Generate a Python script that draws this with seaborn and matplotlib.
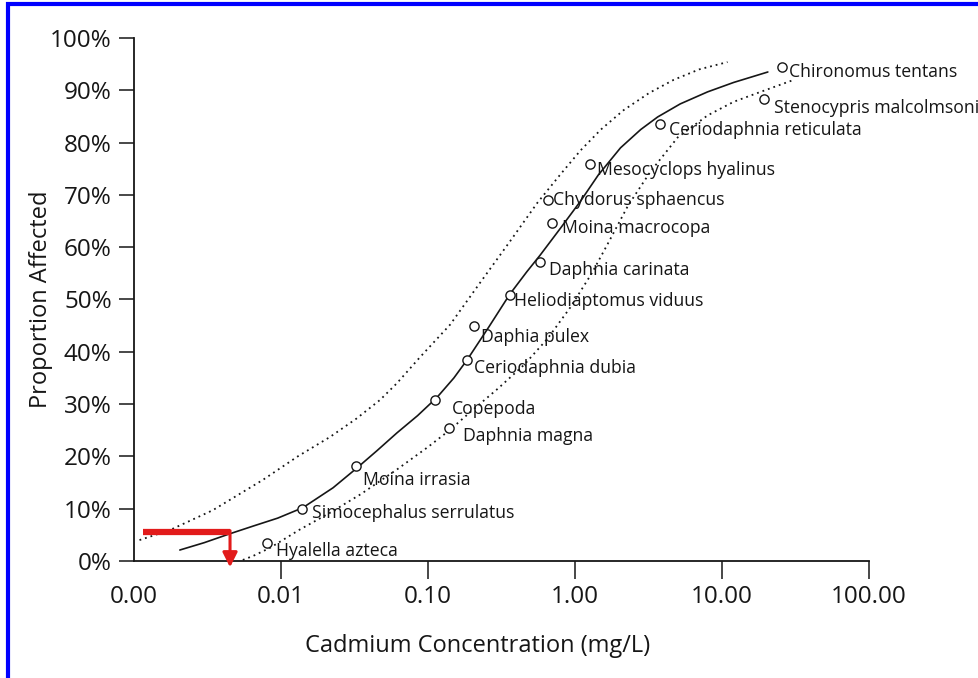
import numpy as np
import pandas as pd
import matplotlib
matplotlib.use("Agg")
import matplotlib.pyplot as plt
from matplotlib.lines import Line2D
import seaborn as sns

# species sensitivity points
species = ["Hyalella azteca", "Simocephalus serrulatus", "Moina irrasia", "Copepoda",
           "Daphnia magna", "Ceriodaphnia dubia", "Daphia pulex", "Heliodiaptomus viduus",
           "Daphnia carinata", "Chydorus sphaencus", "Moina macrocopa", "Mesocyclops hyalinus",
           "Ceriodaphnia reticulata", "Stenocypris malcolmsoni", "Chironomus tentans"]
conc = [0.0080, 0.0139, 0.0324, 0.112, 0.139, 0.185, 0.206, 0.363,
        0.581, 0.659, 0.70, 1.27, 3.76, 19.2, 25.5]
affected = [0.034, 0.099, 0.182, 0.308, 0.254, 0.384, 0.449, 0.509,
            0.572, 0.690, 0.646, 0.759, 0.836, 0.883, 0.945]

# fitted curve
fit_x = [0.00205, 0.003, 0.00448, 0.0065, 0.0095, 0.0141, 0.0226, 0.0329, 0.045,
         0.0615, 0.085, 0.1153, 0.15, 0.185, 0.26, 0.36, 0.47, 0.58, 0.795,
         1.09, 1.44, 2.04, 2.8, 3.65, 5.2, 7.98, 12.0, 20.5]
fit_y = [0.021, 0.035, 0.052, 0.067, 0.082, 0.102, 0.140, 0.178, 0.211,
         0.245, 0.278, 0.313, 0.350, 0.385, 0.448, 0.510, 0.553, 0.585, 0.636,
         0.688, 0.738, 0.790, 0.825, 0.849, 0.874, 0.897, 0.915, 0.935]

# upper / lower confidence bounds
upper_x = [0.00109, 0.00175, 0.00343, 0.00752, 0.013, 0.0215, 0.0325, 0.0472, 0.0615,
           0.0884, 0.1415, 0.226, 0.363, 0.555, 0.8, 1.09, 1.5, 2.14, 3.2, 4.69,
           7.0, 10.9]
upper_y = [0.040, 0.059, 0.097, 0.155, 0.200, 0.237, 0.272, 0.308, 0.340,
           0.390, 0.452, 0.532, 0.612, 0.685, 0.740, 0.785, 0.825, 0.862, 0.895, 0.920,
           0.940, 0.954]
lower_x = [0.0055, 0.0065, 0.0084, 0.0134, 0.0215, 0.035, 0.0615, 0.1, 0.14, 0.2,
           0.3, 0.45, 0.65, 0.93, 1.3, 1.66, 2.3, 3.27, 5.0, 7.98, 12.0, 17.5, 30.8]
lower_y = [0.002, 0.010, 0.025, 0.060, 0.092, 0.128, 0.175, 0.218, 0.250, 0.288,
           0.330, 0.375, 0.425, 0.485, 0.550, 0.605, 0.680, 0.745, 0.810, 0.852,
           0.878, 0.895, 0.920]

# HC5 marker
hc5_level = 0.055
hc5_conc = 0.0045
hc5_start = 0.00115

xticks = [0.001, 0.01, 0.1, 1, 10, 100]
xtick_labels = ["0.00", "0.01", "0.10", "1.00", "10.00", "100.00"]
yticks = [0, 0.1, 0.2, 0.3, 0.4, 0.5, 0.6, 0.7, 0.8, 0.9, 1.0]
ytick_labels = ["0%", "10%", "20%", "30%", "40%", "50%", "60%", "70%", "80%", "90%", "100%"]

# label offsets in pixels (right, down)
label_offsets = [(9, 8), (10, 4), (7, 14), (17, 9), (14, 8), (7, 8), (7, 11), (4, 6),
                 (9, 8), (5, 0), (10, 5), (7, 6), (9, 6), (10, 9), (7, 5)]

sns.set_style("ticks")
plt.rcParams["font.family"] = ["Open Sans", "DejaVu Sans"]

pts = pd.DataFrame({"species": species, "conc": conc, "affected": affected})
fit = pd.DataFrame({"conc": fit_x, "affected": fit_y})
up = pd.DataFrame({"conc": upper_x, "affected": upper_y})
lo = pd.DataFrame({"conc": lower_x, "affected": lower_y})

W, H = 979, 678
fig = plt.figure(figsize=(W / 100, H / 100), dpi=100)
ax = fig.add_axes([134 / W, 1 - 561 / H, 735 / W, 523 / H])
ax.set_xscale("log")

ink = "#161616"
sns.lineplot(data=fit, x="conc", y="affected", ax=ax, color=ink, lw=1.2, zorder=2)
sns.lineplot(data=up, x="conc", y="affected", ax=ax, color=ink, lw=1.3,
             linestyle=(0, (1, 2.2)), zorder=2)
sns.lineplot(data=lo, x="conc", y="affected", ax=ax, color=ink, lw=1.3,
             linestyle=(0, (1, 2.2)), zorder=2)
sns.scatterplot(data=pts, x="conc", y="affected", ax=ax, marker="o", s=44,
                facecolor="white", edgecolor=ink, linewidth=1.0, zorder=3)

for name, x, y, (dx, dy) in zip(species, conc, affected, label_offsets):
    ax.annotate(name, (x, y), xytext=(dx, -dy), textcoords="offset pixels",
                ha="left", va="center", fontsize=12.7, color=ink, zorder=4)

# red HC5 marker line and arrow
red = "#e21b1b"
ax.plot([hc5_start, hc5_conc], [hc5_level, hc5_level], color=red, lw=4.5,
        solid_capstyle="butt", zorder=5)
arr = ax.annotate("", xy=(hc5_conc, -0.012), xytext=(hc5_conc, hc5_level + 0.003),
                  arrowprops=dict(arrowstyle="-|>", color=red, lw=2.2, mutation_scale=22,
                                  shrinkA=0, shrinkB=0),
                  annotation_clip=False, zorder=5)
arr.arrow_patch.set_clip_on(False)

ax.set_xlim(0.001, 100)
ax.set_ylim(0, 1)
ax.set_xticks(xticks)
ax.set_xticklabels(xtick_labels)
ax.set_yticks(yticks)
ax.set_yticklabels(ytick_labels)
ax.minorticks_off()
ax.xaxis.get_major_ticks()[0].tick1line.set_visible(False)

sns.despine(ax=ax)
for s in ["left", "bottom"]:
    ax.spines[s].set_linewidth(1.3)
    ax.spines[s].set_color(ink)
ax.tick_params(axis="y", length=11, width=1.1, pad=5, labelsize=17.5, colors=ink)
ax.tick_params(axis="x", length=13, width=1.1, pad=4, labelsize=17.5, colors=ink)

ax.set_xlabel("Cadmium Concentration (mg/L)", fontsize=17, color=ink)
ax.set_ylabel("Proportion Affected", fontsize=17, color=ink)
ax.xaxis.set_label_coords(0.467, -0.14)
ax.yaxis.set_label_coords(-0.11, 0.5)

# blue frame around the figure
fig.add_artist(Line2D([6 / W, 1], [1 - 4 / H, 1 - 4 / H], transform=fig.transFigure,
                      color="#0000ff", lw=3, solid_capstyle="butt"))
fig.add_artist(Line2D([8 / W, 8 / W], [0, 1 - 2 / H], transform=fig.transFigure,
                      color="#0000ff", lw=3, solid_capstyle="butt"))

fig.savefig("out.png", dpi=100, facecolor="white")
